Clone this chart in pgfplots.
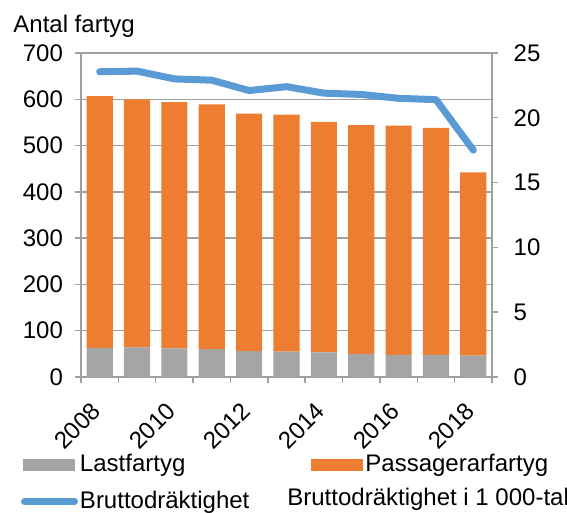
\documentclass[border=0pt]{standalone}
\usepackage{fontspec}
\setmainfont{Liberation Sans}
\usepackage{pgfplots}
\usepackage{pgfplotstable}
\pgfplotsset{compat=1.18}

\definecolor{lastgray}{HTML}{A5A5A5}
\definecolor{passorange}{HTML}{ED7D31}
\definecolor{bruttoblue}{HTML}{5B9BD5}
\definecolor{axgray}{HTML}{A0A0A0}

% antal fartyg (last + passagerare) och bruttodräktighet i 1 000-tal
\pgfplotstableread{
x year last pass brutto
0  2008 63 544 23.55
1  2009 64 536 23.6
2  2010 62 532 23.0
3  2011 60 529 22.9
4  2012 56 513 22.1
5  2013 55 512 22.4
6  2014 53 498 21.9
7  2015 50 494 21.8
8  2016 48 495 21.5
9  2017 48 490 21.4
10 2018 46 396 17.5
}\data

\pgfplotsset{
  base/.style={
    width=205.5pt, height=162pt, scale only axis,
    xmin=-0.5, xmax=10.5, clip=false,
    tick align=outside, major tick length=3pt,
    axis line style={-, axgray, line width=0.7pt},
    tick style={axgray, line width=0.7pt},
    tick label style={font=\fontsize{12}{14}\selectfont},
    /pgf/number format/assume math mode=true,
  },
}

\begin{document}
\begin{tikzpicture}
\begin{axis}[base,
  ybar stacked, bar width=0.7,
  ymin=0, ymax=700, ytick={0,100,...,700},
  axis x line*=bottom, axis y line*=left,
  ymajorgrids, grid style={axgray, line width=0.7pt},
  xtick={0,2,...,10},
  xticklabels={2008,2010,2012,2014,2016,2018},
  major x tick style={draw=none},
  minor xtick={-0.5,0.5,...,10.5},
  minor x tick style={axgray, line width=0.7pt},
  minor tick length=3pt,
  xticklabel style={inner sep=0pt, xshift=-1.5pt, yshift=-12pt, rotate=45, anchor=east},
  yticklabel style={xshift=-2.5pt},
  legend columns=2, legend cell align=left,
  legend style={draw=none, fill=none, at={(rel axis cs:0,0)}, anchor=north west,
    xshift=-30.2pt, yshift=-38.6pt, font=\fontsize{12}{14}\selectfont,
    inner sep=0pt, row sep=8.2pt, nodes={inner sep=0pt},
    /tikz/every odd column/.append style={column sep=1pt},
    /tikz/every even column/.append style={column sep=31pt}},
]
\addplot+[fill=lastgray, draw=none,
  legend image code/.code={\fill[lastgray] (0pt,-3pt) rectangle (26pt,3pt);}]
  table[x=x, y=last] {\data};
\addlegendentry{Lastfartyg}
\addplot+[fill=passorange, draw=none,
  legend image code/.code={\fill[passorange] (0pt,-3pt) rectangle (26pt,3pt);}]
  table[x=x, y=pass] {\data};
\addlegendentry{Passagerarfartyg}
\addlegendimage{legend image code/.code={\draw[bruttoblue, line width=3.5pt, line cap=round] (0.75pt,0pt) -- (25.75pt,0pt);}}
\addlegendentry{Bruttodräktighet}
\node[anchor=base west, font=\fontsize{12}{14}\selectfont, inner sep=0pt]
  at ([xshift=103pt, yshift=-64.5pt]rel axis cs:0,0) {Bruttodräktighet i 1 000-tal};
\node[anchor=base west, font=\fontsize{12}{14}\selectfont, inner sep=0pt]
  at ([xshift=-34pt, yshift=10pt]rel axis cs:0,1) {Antal fartyg};
\coordinate (bl) at (rel axis cs:0,0);
\coordinate (tr) at (rel axis cs:1,1);
\end{axis}
\begin{axis}[base,
  ymin=0, ymax=25, ytick={0,5,...,25},
  axis y line*=right, axis x line=none,
  yticklabel style={xshift=4.3pt},
]
\addplot[bruttoblue, line width=3.5pt, line join=round, line cap=round, mark=none]
  table[x=x, y=brutto] {\data};
\end{axis}
\pgfresetboundingbox
\path ([xshift=-40.5pt, yshift=-68pt]bl) rectangle ([xshift=37.5pt, yshift=26.5pt]tr);
\end{tikzpicture}
\end{document}
